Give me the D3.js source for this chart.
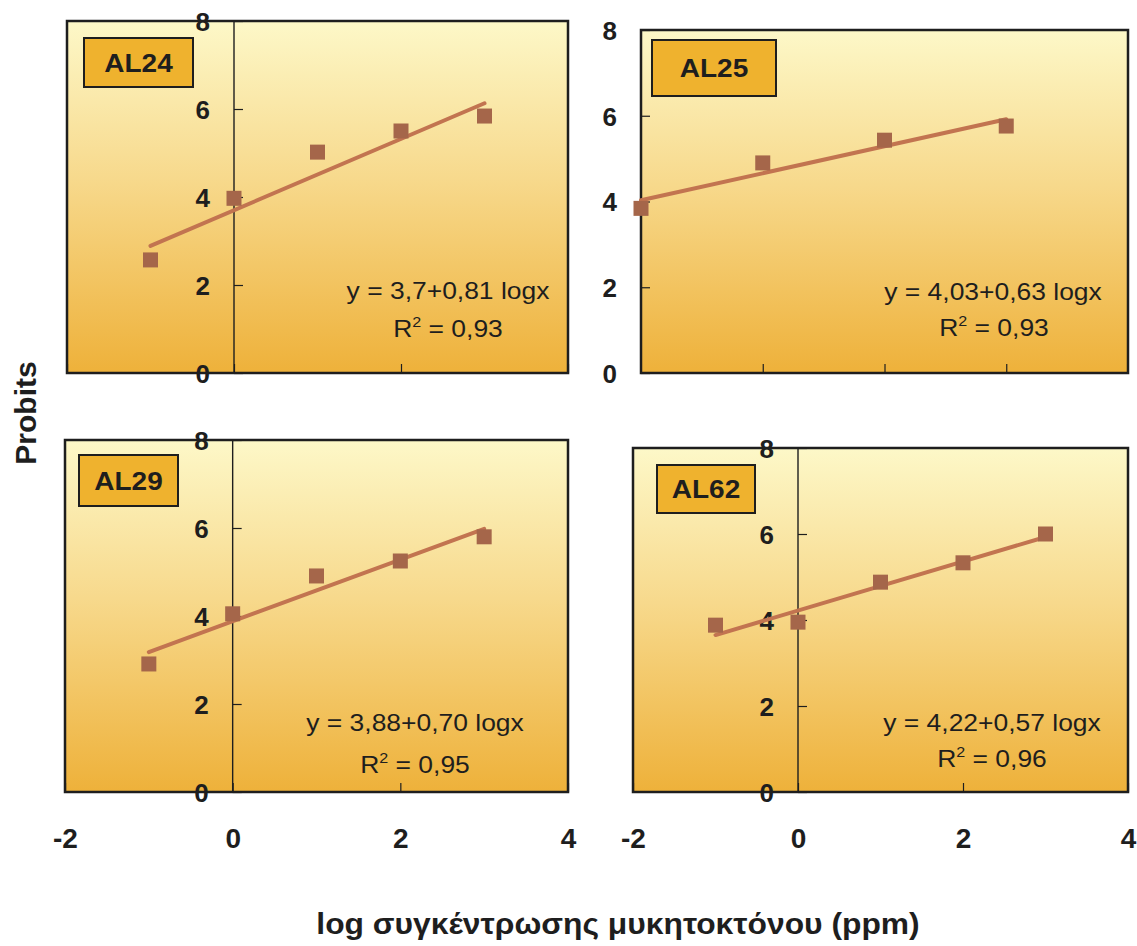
<!DOCTYPE html>
<html>
<head>
<meta charset="utf-8">
<script src="https://cdn.jsdelivr.net/npm/d3@7"></script>
<style>
  html, body { margin: 0; padding: 0; background: #ffffff; }
  svg { display: block; font-family: "Liberation Sans", Arial, sans-serif; }
</style>
</head>
<body>
<svg id="chart" width="1137" height="946"></svg>
<script>
// ---------- data ----------
const panelNames = ["AL24", "AL25", "AL29", "AL62"];
const xAL24 = [-1, 0, 1, 2, 3];
const yAL24 = [2.57, 3.97, 5.02, 5.5, 5.84];
const xAL25 = [0, 1, 2, 3];
const yAL25 = [3.84, 4.9, 5.43, 5.76];
const xAL29 = [-1, 0, 1, 2, 3];
const yAL29 = [2.91, 4.05, 4.91, 5.25, 5.8];
const xAL62 = [-1, 0, 1, 2, 3];
const yAL62 = [3.88, 3.95, 4.88, 5.33, 6.0];
const intercepts = [3.7, 4.03, 3.88, 4.22];
const slopes = [0.81, 0.63, 0.70, 0.57];
const eqTexts = ["y = 3,7+0,81 logx", "y = 4,03+0,63 logx", "y = 3,88+0,70 logx", "y = 4,22+0,57 logx"];
const r2Texts = ["0,93", "0,93", "0,95", "0,96"];
const lineFrom = [-1, 0, -1, -1];
const lineTo = [3, 3, 3, 3];
const yTicks = [0, 2, 4, 6, 8];
const xTickLabels = [-2, 0, 2, 4];
const yTitle = "Probits";
const xTitle = "log συγκέντρωσης μυκητοκτόνου (ppm)";

const seriesX = [xAL24, xAL25, xAL29, xAL62];
const seriesY = [yAL24, yAL25, yAL29, yAL62];

// ---------- layout ----------
const layout = [
  { x0: 67,  y0: 21,  x1: 568,  y1: 373, xDom: [-2, 4], xTicks: [-2, 0, 2, 4], box: [84, 38, 109, 49],  eq: [448, 299], r2: [448, 337], bottomLabels: false },
  { x0: 641, y0: 30,  x1: 1128, y1: 373, xDom: [0, 4],  xTicks: [1, 2, 3],      box: [652, 40, 124, 56], eq: [993, 300], r2: [994, 336], bottomLabels: false },
  { x0: 65,  y0: 440, x1: 568,  y1: 792, xDom: [-2, 4], xTicks: [-2, 0, 2, 4], box: [79, 455, 99, 51],  eq: [415, 731], r2: [415, 773], bottomLabels: true },
  { x0: 633, y0: 448, x1: 1128, y1: 792, xDom: [-2, 4], xTicks: [-2, 0, 2, 4], box: [657, 465, 98, 48], eq: [992, 731], r2: [992, 767], bottomLabels: true }
];

const svg = d3.select("#chart");
const defs = svg.append("defs");
const grad = defs.append("linearGradient").attr("id", "bg")
  .attr("x1", 0).attr("y1", 0).attr("x2", 0).attr("y2", 1);
[[0, "#fdf8c8"], [0.45, "#f7d98c"], [1, "#eeb13a"]].forEach(s =>
  grad.append("stop").attr("offset", s[0]).attr("stop-color", s[1]));

const lineColor = "#c27450";
const markerColor = "#a5664a";
const ink = "#1e1e1e";

layout.forEach((L, i) => {
  const x = d3.scaleLinear().domain(L.xDom).range([L.x0, L.x1]);
  const y = d3.scaleLinear().domain([0, 8]).range([L.y1, L.y0]);
  const g = svg.append("g");

  // plot area
  g.append("rect")
    .attr("x", L.x0).attr("y", L.y0)
    .attr("width", L.x1 - L.x0).attr("height", L.y1 - L.y0)
    .attr("fill", "url(#bg)");

  // x ticks (inside, pointing up from bottom)
  const xa = g.append("g").attr("transform", `translate(0,${L.y1})`)
    .call(d3.axisTop(x).tickValues(L.xTicks).tickSize(9).tickFormat(""));
  xa.select(".domain").remove();
  xa.selectAll(".tick line").attr("stroke", ink).attr("stroke-width", 1.2);

  // y axis at x = 0
  const ya = g.append("g").attr("transform", `translate(${x(0)},0)`)
    .call(d3.axisLeft(y).tickValues(yTicks).tickSizeInner(-9).tickSizeOuter(0)
      .tickPadding(24).tickFormat(d => String(d)));
  ya.selectAll(".tick line").attr("stroke", ink).attr("stroke-width", 1.2);
  ya.selectAll(".tick text")
    .attr("font-family", "'Liberation Sans', Arial, sans-serif")
    .attr("font-size", 26).attr("font-weight", "bold").attr("fill", ink)
    .attr("dy", "0.36em");

  // border
  g.append("rect")
    .attr("x", L.x0).attr("y", L.y0)
    .attr("width", L.x1 - L.x0).attr("height", L.y1 - L.y0)
    .attr("fill", "none").attr("stroke", ink).attr("stroke-width", 2.5);
  ya.raise();
  ya.select(".domain").remove();
  g.append("line")
    .attr("x1", x(0)).attr("x2", x(0)).attr("y1", L.y0).attr("y2", L.y1)
    .attr("stroke", ink).attr("stroke-width", 1.4);

  // regression line
  g.append("line")
    .attr("x1", x(lineFrom[i])).attr("y1", y(intercepts[i] + slopes[i] * lineFrom[i]))
    .attr("x2", x(lineTo[i])).attr("y2", y(intercepts[i] + slopes[i] * lineTo[i]))
    .attr("stroke", lineColor).attr("stroke-width", 4).attr("stroke-linecap", "round");

  // markers
  const pts = seriesX[i].map((d, k) => ({ x: d, y: seriesY[i][k] }));
  g.selectAll("rect.pt").data(pts).join("rect").attr("class", "pt")
    .attr("x", d => x(d.x) - 7.5).attr("y", d => y(d.y) - 7.5)
    .attr("width", 15).attr("height", 15)
    .attr("fill", markerColor);

  // name box
  const [bx, by, bw, bh] = L.box;
  g.append("rect").attr("x", bx).attr("y", by).attr("width", bw).attr("height", bh)
    .attr("fill", "#efb22e").attr("stroke", ink).attr("stroke-width", 2);
  g.append("text")
    .attr("transform", `translate(${bx + bw / 2},${by + bh / 2}) scale(1.12,1)`)
    .attr("text-anchor", "middle").attr("dy", "0.36em")
    .attr("font-size", 25).attr("font-weight", "bold").attr("fill", ink)
    .text(panelNames[i]);

  // equation
  g.append("text")
    .attr("transform", `translate(${L.eq[0]},${L.eq[1]}) scale(1.15,1)`)
    .attr("text-anchor", "middle")
    .attr("font-size", 23).attr("fill", ink)
    .text(eqTexts[i]);
  const r2 = g.append("text")
    .attr("transform", `translate(${L.r2[0]},${L.r2[1]}) scale(1.15,1)`)
    .attr("text-anchor", "middle")
    .attr("font-size", 23).attr("fill", ink);
  r2.append("tspan").text("R");
  r2.append("tspan").attr("font-size", 14).attr("dy", -10).text("2");
  r2.append("tspan").attr("dy", 10).text(" = " + r2Texts[i]);

  // bottom tick labels
  if (L.bottomLabels) {
    const bxs = g.append("g").attr("transform", `translate(0,838)`)
      .call(d3.axisBottom(x).tickValues(xTickLabels).tickSize(0).tickPadding(0)
        .tickFormat(d => String(d)));
    bxs.select(".domain").remove();
    bxs.selectAll(".tick text")
      .attr("font-family", "'Liberation Sans', Arial, sans-serif")
      .attr("font-size", 28).attr("font-weight", "bold").attr("fill", ink)
      .attr("dy", "0.36em").attr("y", 0);
  }
});

// axis titles
svg.append("text")
  .attr("transform", "translate(25,413) rotate(-90)")
  .attr("text-anchor", "middle").attr("dy", "0.36em")
  .attr("font-size", 30).attr("font-weight", "bold").attr("fill", ink)
  .text(yTitle);

svg.append("text")
  .attr("transform", "translate(618,923) scale(1.06,1)")
  .attr("text-anchor", "middle").attr("dy", "0.36em")
  .attr("font-size", 30).attr("font-weight", "bold").attr("fill", ink)
  .text(xTitle);
</script>
</body>
</html>
